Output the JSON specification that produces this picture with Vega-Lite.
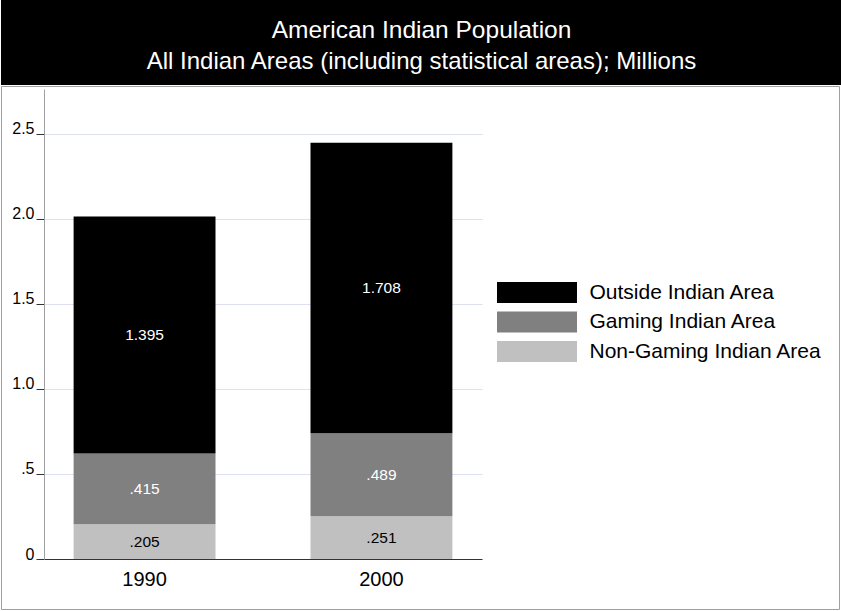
{
  "$schema": "https://vega.github.io/schema/vega-lite/v6.json",
  "padding": 0,
  "background": "white",
  "columns": 1,
  "spacing": 0,
  "config": {"font": "Liberation Sans"},
  "concat": [
    {
      "width": 841,
      "height": 85,
      "view": {"fill": "black", "stroke": null},
      "data": {"values": [
        {"line": "title", "text": "American Indian Population"},
        {"line": "subtitle", "text": "All Indian Areas (including statistical areas); Millions"}
      ]},
      "encoding": {
        "x": {"datum": "c", "type": "nominal", "scale": {"type": "point"}, "axis": null},
        "y": {"field": "line", "type": "nominal", "scale": {"type": "point", "domain": ["title", "subtitle"], "range": [38, 69], "padding": 0}, "axis": null},
        "text": {"field": "text"}
      },
      "layer": [
        {"transform": [{"filter": "datum.line == 'title'"}], "mark": {"type": "text", "color": "white", "fontSize": 24.5, "baseline": "alphabetic", "align": "center"}},
        {"transform": [{"filter": "datum.line == 'subtitle'"}], "mark": {"type": "text", "color": "white", "fontSize": 24, "baseline": "alphabetic", "align": "center"}}
      ]
    },
    {
      "width": 838,
      "height": 523,
      "view": {"stroke": "#a0a0a0", "strokeWidth": 1},
      "data": {"values": [
        {"year": "1990", "category": "Non-Gaming Indian Area", "value": 0.205, "label": ".205", "k": 1},
        {"year": "1990", "category": "Gaming Indian Area", "value": 0.415, "label": ".415", "k": 2},
        {"year": "1990", "category": "Outside Indian Area", "value": 1.395, "label": "1.395", "k": 3},
        {"year": "2000", "category": "Non-Gaming Indian Area", "value": 0.251, "label": ".251", "k": 1},
        {"year": "2000", "category": "Gaming Indian Area", "value": 0.489, "label": ".489", "k": 2},
        {"year": "2000", "category": "Outside Indian Area", "value": 1.708, "label": "1.708", "k": 3}
      ]},
      "encoding": {
        "x": {"field": "year", "type": "nominal", "scale": {"range": [43, 481], "paddingInner": 0.401, "paddingOuter": 0.125},
          "axis": {"title": null, "labelAngle": 0, "ticks": false, "offset": -50, "labelFontSize": 20, "labelPadding": 10, "domainColor": "#333333", "labelColor": "black"}}
      },
      "layer": [
        {
          "mark": {"type": "bar"},
          "encoding": {
            "y": {"field": "value", "type": "quantitative", "stack": "zero",
              "scale": {"domain": [0, 2.7647], "range": [473, 3], "nice": false},
              "axis": {"values": [0, 0.5, 1, 1.5, 2, 2.5], "title": null, "offset": -43,
                "labelExpr": "datum.value == 0 ? '0' : datum.value < 1 ? '.5' : format(datum.value, '.1f')",
                "tickSize": 8, "tickColor": "#333333", "domainColor": "#a0a0a0", "gridColor": "#dde0ef",
                "labelFontSize": 16, "labelColor": "black", "labelPadding": 2, "labelBaseline": "alphabetic",
                "encode": {"labels": {"update": {"dy": {"signal": "datum.value == 0 ? 5 : 0"}}}}}},
            "color": {"field": "category", "type": "nominal",
              "scale": {"domain": ["Outside Indian Area", "Gaming Indian Area", "Non-Gaming Indian Area"], "range": ["#000000", "#808080", "#c0c0c0"]},
              "legend": {"title": null, "orient": "none", "legendX": 496, "legendY": 282,
                "symbolType": "M-4,-1.05H4V1.05H-4Z", "symbolSize": 400, "symbolOffset": 29.5, "symbolStrokeWidth": 0, "symbolOpacity": 1,
                "labelFontSize": 21, "labelColor": "black", "labelOffset": 42, "labelLimit": 400, "rowPadding": 7.5}},
            "order": {"field": "k"}
          }
        },
        {
          "mark": {"type": "text", "fontSize": 15.5, "baseline": "middle"},
          "encoding": {
            "y": {"field": "value", "type": "quantitative", "stack": "zero", "bandPosition": 0.5},
            "text": {"field": "label"},
            "color": {"condition": {"test": "datum.category == 'Non-Gaming Indian Area'", "value": "black"}, "value": "white"},
            "order": {"field": "k"}
          }
        }
      ]
    }
  ]
}
